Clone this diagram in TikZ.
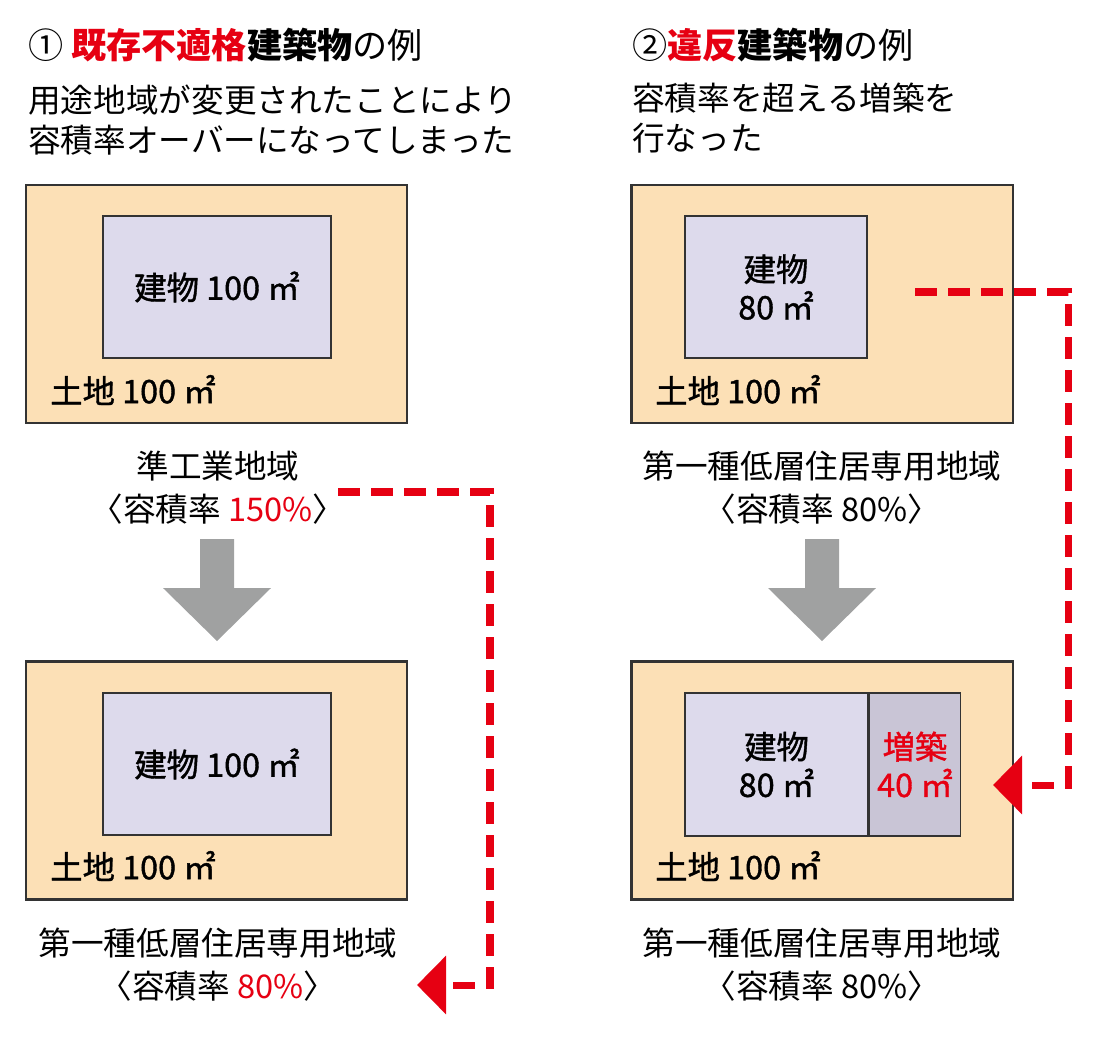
\documentclass[tikz,border=0pt]{standalone}
\usepackage{fontspec}
\setmainfont{Noto Sans CJK JP}
\newfontfamily\boxfont{Noto Sans CJK JP}[FakeBold=1.2]
\usepackage{xcolor}
\usetikzlibrary{arrows.meta, positioning}
\definecolor{landfill}{HTML}{FCE0B6}
\definecolor{bldgfill}{HTML}{DDDAEC}
\definecolor{addfill}{HTML}{C9C5D6}
\definecolor{arrowgray}{HTML}{A0A1A1}
\definecolor{alertred}{HTML}{E60012}
\definecolor{edgegray}{HTML}{333333}
\newcommand{\titlesize}{\fontsize{25pt}{30pt}\selectfont}
\newcommand{\jpsize}{\fontsize{23.2pt}{28.5pt}\selectfont}
\newcommand{\boxsize}{\boxfont\fontsize{23pt}{27pt}\selectfont}
\tikzset{
    land/.style={
        rectangle,
        draw=edgegray,
        line width=1.5pt,
        fill=landfill,
        minimum width=9.525cm,
        minimum height=5.95cm
    },
    bldg/.style={
        rectangle,
        draw=edgegray,
        line width=1pt,
        fill=bldgfill,
        minimum height=3.55cm,
        align=center,
        font=\boxsize
    },
    addition/.style={
        bldg,
        fill=addfill,
        text=alertred
    },
    area/.style={
        anchor=west,
        inner sep=0pt,
        font=\boxsize
    },
    heading/.style={
        anchor=west,
        inner sep=0pt,
        font=\titlesize
    },
    note/.style={
        anchor=west,
        inner sep=0pt,
        align=left,
        font=\jpsize
    },
    zone/.style={
        align=center,
        inner sep=0pt,
        font=\fontsize{23.2pt}{30.5pt}\selectfont
    },
    redflow/.style={
        draw=alertred,
        line width=5pt,
        dash pattern=on 0.55cm off 0.275cm,
        -{Triangle[length=0.725cm,width=1.425cm]}
    },
    downarrow/.pic={
        \fill[arrowgray] (-17,0) -- (17,0) -- (17,49) -- (54,49) -- (0,102)
            -- (-54,49) -- (-17,49) -- cycle;
    }
}

\begin{document}
\begin{tikzpicture}[x=0.025cm, y=-0.025cm]
\useasboundingbox (0,0) rectangle (1096,1040);

% Case 1
\node[heading] (title1) at (28,45)
    {① \textbf{\textcolor{alertred}{既存不適格}建築物}の例};
\node[note] (desc1) at (28,120)
    {用途地域が変更されたことにより\\容積率オーバーになってしまった};

\node[land] (land1) at (216.5,304) {};
\node[bldg, minimum width=5.7cm] (bldg1) at (217,287) {建物 100 ㎡};
\node[area] (area1) at (50,390) {土地 100 ㎡};
\node[zone] (zone1) at (218,488)
    {準工業地域\\〈容積率 \textcolor{alertred}{150\%}〉};

\pic at (217,539) {downarrow};

\node[land] (land2) at (216.5,780.5) {};
\node[bldg, minimum width=5.7cm] (bldg2) at (217,764) {建物 100 ㎡};
\node[area] (area2) at (50,866) {土地 100 ㎡};
\node[zone] (zone2) at (218,965)
    {第一種低層住居専用地域\\〈容積率 \textcolor{alertred}{80\%}〉};

% Case 2
\node[heading] (title2) at (632,45)
    {②\textbf{\textcolor{alertred}{違反}建築物}の例};
\node[note] (desc2) at (632,118)
    {容積率を超える増築を\\行なった};

\node[land] (land3) at (822,304) {};
\node[bldg, minimum width=4.55cm] (bldg3) at (776,287) {建物\\80 ㎡};
\node[area] (area3) at (655,390) {土地 100 ㎡};
\node[zone] (zone3) at (822,488)
    {第一種低層住居専用地域\\〈容積率 80\%〉};

\pic at (822,539) {downarrow};

\node[land] (land4) at (822,780.5) {};
\node[bldg, minimum width=4.575cm, minimum height=3.575cm] (bldg4) at (776.5,764.5) {建物\\80 ㎡};
\node[addition, minimum width=2.275cm, minimum height=3.575cm, right=0pt of bldg4] (add4) {増築\\40 ㎡};
\node[area] (area4) at (655,866) {土地 100 ㎡};
\node[zone] (zone4) at (822,965)
    {第一種低層住居専用地域\\〈容積率 80\%〉};

% Red jumps
\coordinate (jump1) at (338,492);
\coordinate (tip1) at (417,985);
\draw[redflow] (jump1) -- ++(152,0) |- (tip1);

\coordinate (jump2) at (915,292);
\coordinate (tip2) at (993,785);
\draw[redflow] (jump2) -- ++(153,0) |- (tip2);

\end{tikzpicture}
\end{document}
